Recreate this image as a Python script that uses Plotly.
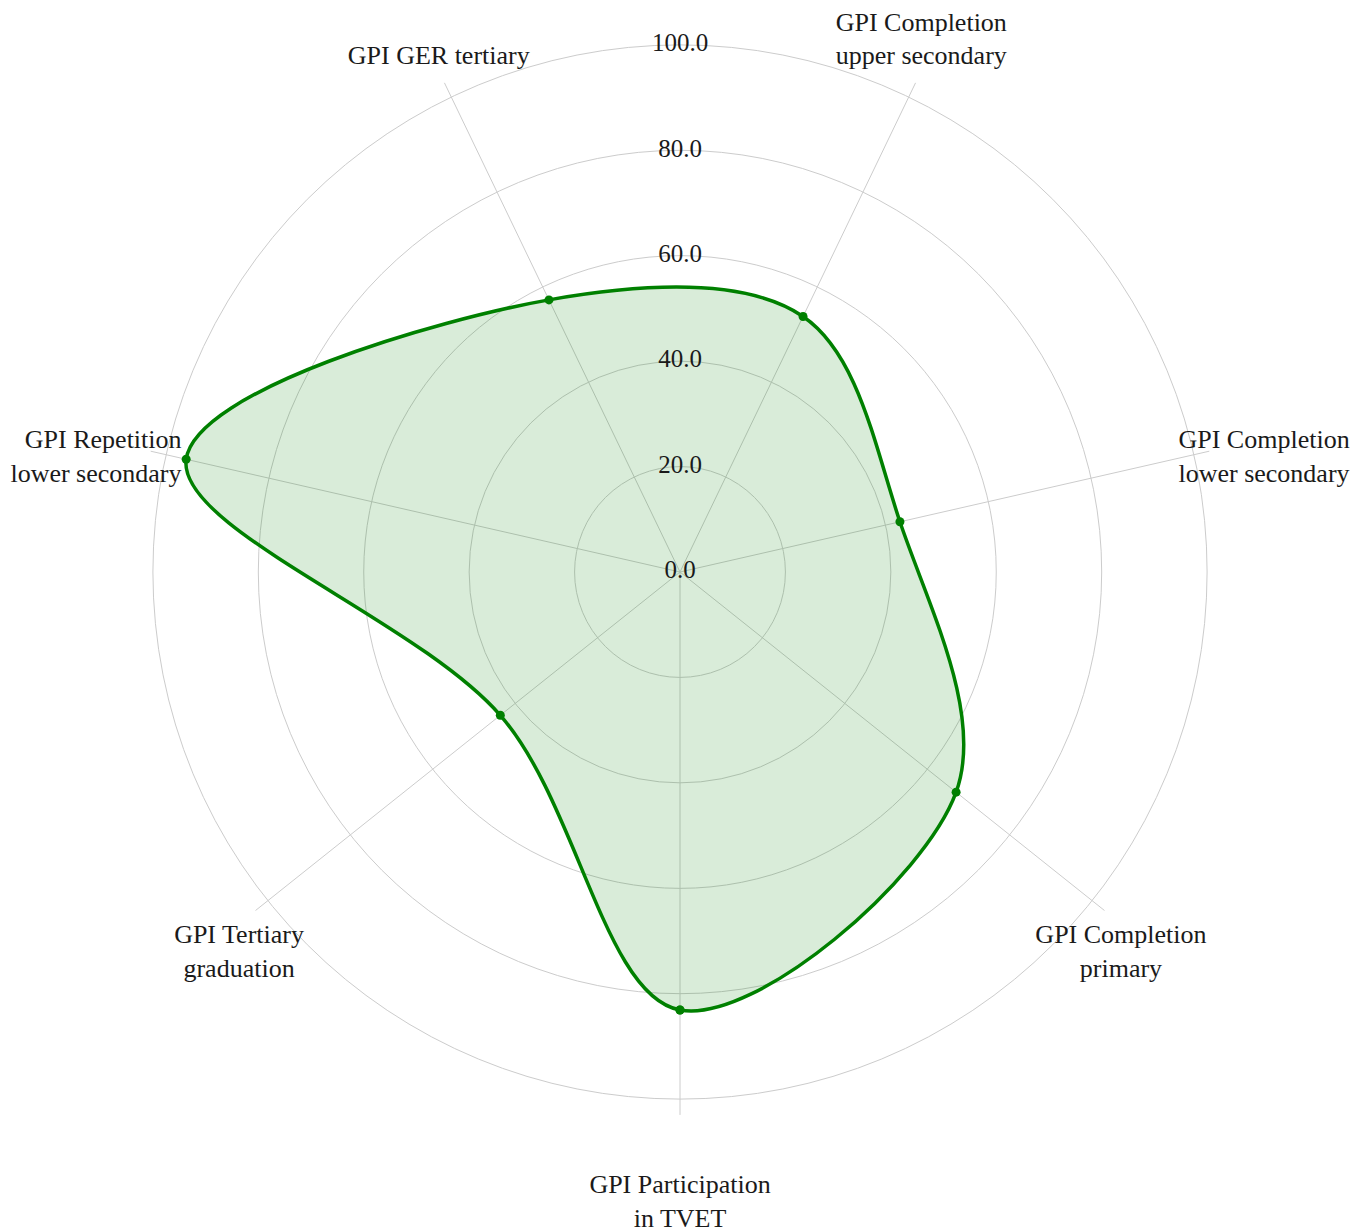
import math
import plotly.graph_objects as go

# ---- data ----
categories = [
    "GPI Participation<br>in TVET",
    "GPI Completion<br>primary",
    "GPI Completion<br>lower secondary",
    "GPI Completion<br>upper secondary",
    "GPI GER tertiary",
    "GPI Repetition<br>lower secondary",
    "GPI Tertiary<br>graduation",
]
values = [83.1, 67.0, 42.8, 53.8, 57.3, 96.1, 43.6]
radial_ticks = [0, 20, 40, 60, 80, 100]
radial_tick_labels = ["0.0", "20.0", "40.0", "60.0", "80.0", "100.0"]

# ---- style constants ----
ROTATION = 270
RANGE_MAX = 107.0
SPOKE_R = 103
LABEL_R_SIDE = 97
LABEL_R_TOP = 105.5
LABEL_R_BOTTOM = 107
FONT = "Liberation Serif, Times New Roman, serif"
GREEN = "#008000"
GRID = "#cccccc"
TEXT = "#1a1a1a"

n = len(categories)
step = 360.0 / n
theta = [i * step for i in range(n)]


def label_layout(t):
    """textposition / radius for a category label, or None when the
    label is drawn as an angular-axis tick label (straight down)."""
    a = math.radians(ROTATION + t)
    s, c = math.sin(a), math.cos(a)
    if s > 0.5:
        return "top center", LABEL_R_TOP
    if s < -0.5:
        if abs(c) < 0.1:
            return None
        return "bottom center", LABEL_R_BOTTOM
    return ("middle right" if c > 0 else "middle left"), LABEL_R_SIDE


lab = [label_layout(t) for t in theta]
txt_idx = [i for i in range(n) if lab[i] is not None]
tick_idx = [i for i in range(n) if lab[i] is None]

fig = go.Figure()

# spokes
spoke_r, spoke_t = [], []
for t in theta:
    spoke_r += [0, SPOKE_R, None]
    spoke_t += [t, t, None]
fig.add_trace(go.Scatterpolar(
    r=spoke_r, theta=spoke_t, mode="lines",
    line=dict(color=GRID, width=1), hoverinfo="skip", showlegend=False,
    cliponaxis=False,
))

# data series
fig.add_trace(go.Scatterpolar(
    r=values + values[:1],
    theta=theta + theta[:1],
    mode="lines+markers",
    line=dict(color=GREEN, width=3.5, shape="spline", smoothing=1.0),
    marker=dict(color=GREEN, size=9),
    fill="toself",
    fillcolor="rgba(0,128,0,0.15)",
    showlegend=False,
))

# radial tick labels (centered on the vertical axis)
fig.add_trace(go.Scatterpolar(
    r=radial_ticks,
    theta=[180] * len(radial_ticks),
    mode="text",
    text=radial_tick_labels,
    textposition="middle center",
    textfont=dict(family=FONT, size=25, color=TEXT),
    hoverinfo="skip", showlegend=False, cliponaxis=False,
))

# category labels
fig.add_trace(go.Scatterpolar(
    r=[lab[i][1] for i in txt_idx],
    theta=[theta[i] for i in txt_idx],
    mode="text",
    text=[categories[i] for i in txt_idx],
    textposition=[lab[i][0] for i in txt_idx],
    textfont=dict(family=FONT, size=26, color=TEXT),
    hoverinfo="skip", showlegend=False, cliponaxis=False,
))

W, H = 1370, 1230
# the page body adds an 8px offset, so the centre is placed 8px up/left
cx, cy, R = 672, 564, 564
fig.update_layout(
    width=W, height=H,
    margin=dict(l=0, r=0, t=0, b=0),
    paper_bgcolor="white",
    showlegend=False,
    font=dict(family=FONT, size=26, color=TEXT),
    polar=dict(
        domain=dict(x=[(cx - R) / W, (cx + R) / W],
                    y=[1 - (cy + R) / H, 1 - (cy - R) / H]),
        bgcolor="rgba(0,0,0,0)",
        radialaxis=dict(
            range=[0, RANGE_MAX], tickvals=radial_ticks,
            showticklabels=False, showline=False, ticks="",
            gridcolor=GRID, gridwidth=1,
        ),
        angularaxis=dict(
            rotation=ROTATION, direction="counterclockwise",
            thetaunit="degrees",
            showgrid=False, showline=False,
            tickmode="array",
            tickvals=[theta[i] for i in tick_idx],
            ticktext=[categories[i] for i in tick_idx],
            ticks="outside", ticklen=25, tickcolor="rgba(0,0,0,0)",
            showticklabels=True,
            tickfont=dict(family=FONT, size=26, color=TEXT),
        ),
    ),
)

fig.write_html("out.html")
